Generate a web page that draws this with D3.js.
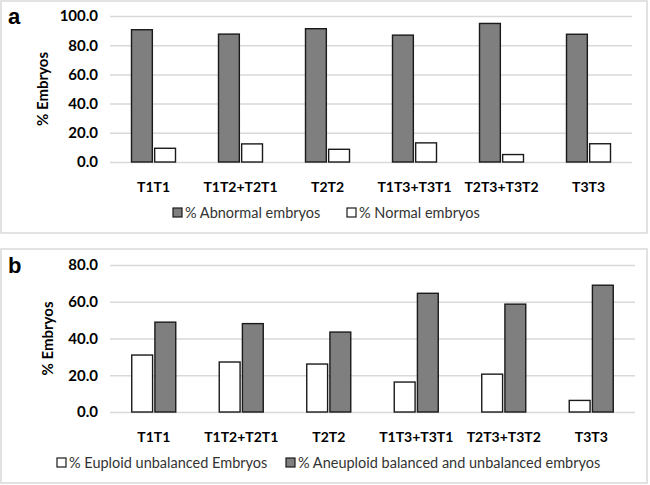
<!DOCTYPE html>
<html><head><meta charset="utf-8">
<script src="https://cdn.jsdelivr.net/npm/d3@7"></script>
<style>body{margin:0;background:#fff}svg{display:block}</style>
</head><body>
<svg id="c" width="650" height="485"></svg>
<script>
const categories = ["T1T1","T1T2+T2T1","T2T2","T1T3+T3T1","T2T3+T3T2","T3T3"];
const abnormalA = [90.6, 87.6, 91.3, 86.9, 94.9, 87.5];
const normalA   = [9.4, 12.4, 8.7, 13.1, 5.1, 12.5];
const euploidB   = [31.0, 27.2, 26.1, 16.3, 20.6, 6.3];
const aneuploidB = [48.9, 48.1, 43.5, 64.6, 58.7, 69.0];
const ticksA = [0, 20, 40, 60, 80, 100];
const ticksB = [0, 20, 40, 60, 80];
const seriesA = [
  {name:"% Abnormal embryos", values: abnormalA, fill:"#7f7f7f"},
  {name:"% Normal embryos", values: normalA, fill:"#ffffff"}
];
const seriesB = [
  {name:"% Euploid unbalanced Embryos", values: euploidB, fill:"#ffffff"},
  {name:"% Aneuploid balanced and unbalanced embryos", values: aneuploidB, fill:"#7f7f7f"}
];

const svg = d3.select("#c");
const FONT = "Lato, 'Open Sans', sans-serif";

function panel(cfg){
  const g = svg.append("g");
  g.append("rect").attr("x", cfg.box[0]).attr("y", cfg.box[1])
    .attr("width", cfg.box[2]).attr("height", cfg.box[3])
    .attr("fill","none").attr("stroke","#d9d9d9").attr("stroke-width",1.5);

  const y = d3.scaleLinear().domain([0, cfg.max]).range([cfg.bottom, cfg.top]);
  const x0 = d3.scaleBand().domain(categories).range([cfg.left, cfg.right]);
  const x1 = d3.scaleBand().domain(cfg.series.map(s=>s.name)).range([0, 44]).paddingInner(0.1);
  const off = (x0.bandwidth() - 44) / 2;

  const yAxis = d3.axisLeft(y).tickValues(cfg.ticks).tickSize(-(cfg.right-cfg.left)).tickPadding(12)
    .tickFormat(d3.format(".1f"));
  const ga = g.append("g").attr("transform", `translate(${cfg.left},0)`).call(yAxis);
  ga.select(".domain").remove();
  ga.selectAll(".tick line").attr("stroke","#d9d9d9").attr("stroke-width",1.5);
  ga.selectAll(".tick text").attr("font-family",FONT).attr("font-weight","bold")
    .attr("font-size",15).attr("fill","#000");

  cfg.series.forEach(s=>{
    g.append("g").selectAll("rect").data(categories).join("rect")
      .attr("x", c => x0(c) + off + x1(s.name))
      .attr("width", x1.bandwidth())
      .attr("y", (c,i) => y(s.values[i]))
      .attr("height", (c,i) => y(0) - y(s.values[i]))
      .attr("fill", s.fill).attr("stroke","#1a1a1a").attr("stroke-width",1.4);
  });

  const xAxis = d3.axisBottom(x0).tickSize(0).tickPadding(cfg.labPad);
  const gx = g.append("g").attr("transform", `translate(0,${cfg.bottom})`).call(xAxis);
  gx.select(".domain").remove();
  gx.selectAll(".tick text").attr("font-family",FONT).attr("font-weight","bold")
    .attr("font-size",14).attr("fill","#000");

  g.append("text").attr("transform", `translate(${cfg.titleX},${(cfg.top+cfg.bottom)/2}) rotate(-90)`)
    .attr("text-anchor","middle").attr("font-family",FONT).attr("font-weight","bold")
    .attr("font-size",15).attr("fill","#000").text("% Embryos");

  g.append("text").attr("x", cfg.letter[0]).attr("y", cfg.letter[1])
    .attr("font-family","Arial, 'Liberation Sans', sans-serif").attr("font-weight","bold")
    .attr("font-size",22).attr("fill","#000").text(cfg.letterText);

  cfg.series.forEach((s,i)=>{
    const lx = cfg.legendX[i];
    g.append("rect").attr("x", lx).attr("y", cfg.legendY-5).attr("width",9).attr("height",9)
      .attr("fill", s.fill).attr("stroke","#1a1a1a").attr("stroke-width",1.2);
    g.append("text").attr("x", lx+12).attr("y", cfg.legendY+5)
      .attr("font-family",FONT).attr("font-size",14.5).attr("fill","#333").text(s.name);
  });
}

panel({box:[1,1,646,232], left:110, right:632, top:16, bottom:162, max:100, ticks:ticksA,
  series:seriesA, labPad:20, titleX:48, letter:[8,24], letterText:"a",
  legendX:[173,347], legendY:213});
panel({box:[1,249,646,234], left:110, right:635, top:265, bottom:412, max:80, ticks:ticksB,
  series:seriesB, labPad:20, titleX:53, letter:[8,273], letterText:"b",
  legendX:[57,286], legendY:463});
</script>
</body></html>
